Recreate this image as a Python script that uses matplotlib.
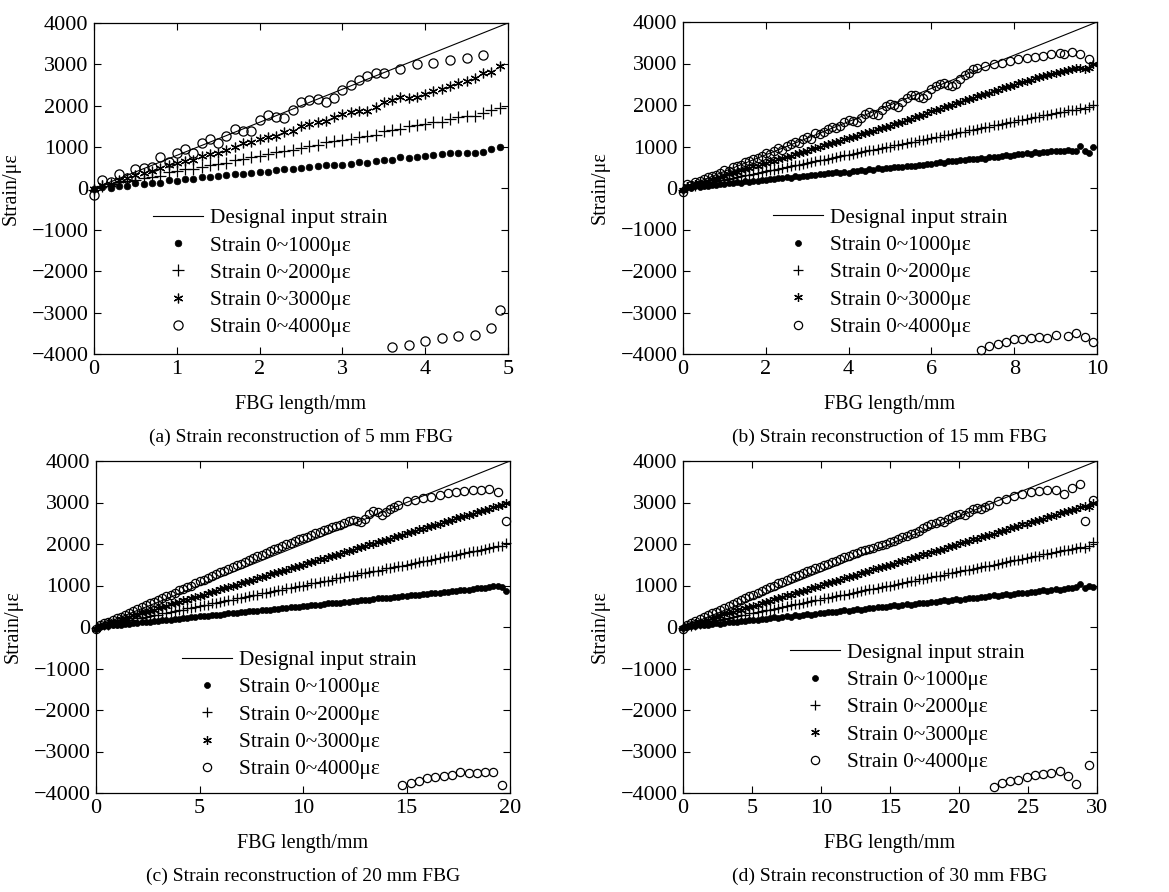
import numpy as np
import matplotlib
matplotlib.use('Agg')
import matplotlib.pyplot as plt

plt.rcParams['font.family'] = ['Liberation Serif', 'DejaVu Serif']

labels = ['Designal input strain', 'Strain 0~1000\u03bc\u03b5', 'Strain 0~2000\u03bc\u03b5',
          'Strain 0~3000\u03bc\u03b5', 'Strain 0~4000\u03bc\u03b5']
design_strain = [0, 4000]

# ---- (a) 5 mm FBG, sampled every 0.1 mm
len_a, step_a = 5, 0.1
s1_a = [-20, 30, 10, 50, 60, 130, 100, 140, 130, 200,
        190, 230, 220, 280, 290, 300, 320, 340, 360, 370,
        410, 400, 450, 470, 480, 500, 520, 540, 560, 580,
        580, 590, 630, 620, 670, 690, 700, 750, 730, 760,
        790, 800, 840, 850, 860, 850, 870, 880, 950, 1000]
s2_a = [-30, 60, 100, 150, 180, 200, 250, 280, 300, 390,
        420, 460, 480, 530, 560, 590, 620, 690, 720, 760,
        790, 840, 880, 910, 940, 990, 1020, 1060, 1120, 1150,
        1180, 1200, 1250, 1280, 1300, 1380, 1420, 1450, 1500, 1530,
        1570, 1600, 1610, 1680, 1720, 1750, 1760, 1820, 1900, 1950]
s3_a = [-20, 80, 120, 200, 260, 330, 380, 430, 500, 570,
        620, 660, 700, 790, 830, 870, 930, 1000, 1090, 1120,
        1200, 1240, 1280, 1370, 1400, 1500, 1570, 1600, 1640, 1730,
        1800, 1850, 1880, 1880, 1960, 2080, 2150, 2200, 2190, 2200,
        2290, 2360, 2400, 2480, 2540, 2600, 2680, 2800, 2810, 2950]
s4_a = [-150, 200, 150, 350, 250, 480, 490, 510, 750, 640,
        850, 950, 850, 1100, 1200, 1100, 1280, 1450, 1400, 1400,
        1650, 1770, 1740, 1700, 1900, 2080, 2150, 2160, 2100, 2180,
        2370, 2500, 2620, 2720, 2780, 2790, -3830, 2900, -3780, 3000,
        -3680, 3040, -3620, 3100, -3570, 3150, -3530, 3220, -3360, -2930]

# ---- (b) 15 mm FBG (10 mm shown), every 0.1 mm
len_b, step_b = 10, 0.1
s1_b = [-60, 20, 10, 40, 30, 60, 50, 80, 70, 100,
        90, 120, 110, 140, 130, 160, 150, 170, 180, 200,
        190, 220, 210, 240, 230, 260, 250, 280, 270, 300,
        300, 320, 310, 340, 330, 360, 350, 380, 370, 380,
        370, 410, 420, 430, 420, 450, 440, 470, 460, 490,
        480, 510, 500, 510, 520, 540, 530, 560, 550, 580,
        590, 600, 620, 610, 640, 650, 640, 670, 680, 690,
        700, 690, 720, 710, 740, 750, 740, 770, 790, 780,
        800, 820, 810, 850, 830, 860, 840, 870, 860, 880,
        880, 890, 900, 910, 880, 900, 1010, 900, 840, 980]
s2_b = [-50, 30, 40, 60, 90, 100, 130, 140, 160, 190,
        200, 220, 250, 260, 280, 310, 320, 340, 370, 380,
        400, 430, 440, 460, 490, 500, 520, 550, 560, 580,
        610, 620, 640, 670, 680, 700, 730, 740, 760, 790,
        790, 820, 850, 860, 880, 910, 920, 940, 970, 980,
        1000, 1030, 1040, 1060, 1090, 1100, 1120, 1150, 1160, 1180,
        1210, 1220, 1240, 1270, 1280, 1300, 1330, 1340, 1360, 1390,
        1400, 1420, 1450, 1460, 1480, 1510, 1520, 1540, 1570, 1580,
        1600, 1630, 1640, 1660, 1690, 1700, 1720, 1750, 1760, 1780,
        1810, 1820, 1840, 1870, 1880, 1880, 1920, 1900, 1950, 2000]
s3_b = [-60, 50, 60, 90, 130, 150, 180, 220, 240, 270,
        300, 340, 360, 390, 430, 450, 480, 520, 540, 570,
        600, 640, 660, 690, 730, 750, 780, 820, 840, 870,
        900, 940, 960, 990, 1030, 1050, 1080, 1120, 1140, 1170,
        1200, 1240, 1260, 1290, 1330, 1350, 1380, 1420, 1440, 1470,
        1500, 1540, 1560, 1600, 1640, 1670, 1700, 1740, 1770, 1800,
        1850, 1880, 1900, 1950, 1980, 2010, 2040, 2080, 2110, 2140,
        2170, 2210, 2240, 2270, 2300, 2340, 2370, 2400, 2430, 2460,
        2490, 2520, 2550, 2580, 2610, 2640, 2670, 2700, 2720, 2750,
        2780, 2800, 2820, 2850, 2870, 2880, 2900, 2860, 2900, 2980]
s4_b = [-100, 100, 80, 150, 170, 220, 260, 300, 320, 350,
        430, 420, 500, 520, 560, 620, 650, 700, 730, 760,
        850, 820, 890, 960, 920, 1010, 1060, 1100, 1090, 1180,
        1220, 1180, 1330, 1300, 1360, 1420, 1470, 1440, 1500, 1580,
        1640, 1620, 1600, 1680, 1780, 1820, 1790, 1770, 1880, 1970,
        2020, 1990, 1960, 2080, 2180, 2230, 2250, 2200, 2180, 2240,
        2380, 2450, 2510, 2530, 2490, 2460, 2510, 2630, 2720, 2780,
        2860, 2900, -3900, 2940, -3800, 2980, -3750, 3020, -3700, 3060,
        -3650, 3100, -3650, 3130, -3620, 3160, -3600, 3190, -3620, 3220,
        -3550, 3250, 3230, -3570, 3270, -3500, 3230, -3600, 3120, -3720]

# ---- (c) 20 mm FBG, every 0.2 mm
len_c, step_c = 20, 0.2
s1_c = [-40, 0, 20, 20, 40, 40, 60, 70, 80, 90,
        100, 110, 120, 130, 150, 150, 160, 170, 180, 200,
        200, 210, 220, 230, 240, 260, 260, 270, 280, 290,
        300, 310, 330, 330, 340, 350, 360, 380, 380, 390,
        400, 420, 420, 430, 440, 460, 460, 470, 490, 490,
        500, 510, 520, 540, 540, 550, 570, 570, 580, 590,
        600, 610, 620, 630, 650, 650, 660, 670, 690, 690,
        700, 710, 720, 730, 750, 750, 760, 780, 780, 790,
        800, 810, 830, 830, 840, 850, 870, 870, 880, 900,
        900, 910, 930, 940, 950, 960, 980, 1000, 970, 860]
s2_c = [-30, 30, 40, 60, 90, 100, 120, 150, 160, 180,
        210, 220, 240, 270, 280, 300, 330, 340, 360, 390,
        400, 420, 450, 460, 480, 510, 520, 540, 570, 580,
        600, 630, 640, 660, 690, 700, 720, 750, 760, 780,
        810, 820, 840, 870, 880, 900, 930, 940, 960, 990,
        1000, 1020, 1050, 1060, 1080, 1110, 1120, 1140, 1170, 1180,
        1200, 1230, 1240, 1260, 1290, 1300, 1320, 1350, 1360, 1380,
        1410, 1420, 1440, 1470, 1480, 1500, 1530, 1540, 1560, 1590,
        1600, 1620, 1650, 1660, 1680, 1710, 1720, 1740, 1770, 1780,
        1800, 1830, 1840, 1860, 1890, 1900, 1920, 1950, 1940, 2030]
s3_c = [-40, 40, 60, 100, 120, 150, 190, 210, 240, 280,
        300, 330, 370, 390, 420, 460, 480, 510, 550, 570,
        600, 640, 660, 690, 730, 750, 780, 820, 840, 870,
        910, 930, 960, 1000, 1020, 1050, 1090, 1110, 1140, 1180,
        1200, 1230, 1270, 1290, 1320, 1360, 1380, 1410, 1450, 1470,
        1500, 1540, 1560, 1590, 1630, 1650, 1680, 1720, 1740, 1770,
        1810, 1830, 1860, 1900, 1920, 1950, 1990, 2010, 2040, 2080,
        2100, 2130, 2170, 2190, 2220, 2260, 2280, 2310, 2350, 2370,
        2400, 2440, 2460, 2490, 2530, 2550, 2580, 2620, 2640, 2670,
        2710, 2730, 2760, 2800, 2820, 2850, 2890, 2910, 2930, 2990]
s4_c = [-50, 60, 90, 130, 180, 220, 250, 300, 340, 390,
        440, 480, 520, 570, 610, 650, 700, 740, 780, 830,
        880, 920, 960, 1000, 1050, 1110, 1140, 1180, 1230, 1270,
        1330, 1360, 1400, 1450, 1500, 1530, 1570, 1620, 1660, 1700,
        1740, 1780, 1830, 1870, 1900, 1940, 1990, 2030, 2070, 2110,
        2150, 2180, 2220, 2260, 2300, 2340, 2370, 2420, 2440, 2460,
        2500, 2560, 2580, 2550, 2520, 2600, 2720, 2800, 2760, 2710,
        2760, 2850, 2900, 2950, -3810, 3030, -3760, 3070, -3710, 3100,
        -3650, 3130, -3620, 3170, -3600, 3220, -3560, 3260, -3500, 3280,
        -3510, 3300, -3530, 3290, -3500, 3330, -3500, 3250, -3800, 2550]

# ---- (d) 30 mm FBG, every 0.3 mm
len_d, step_d = 30, 0.3
s1_d = [-20, 10, 30, 20, 40, 60, 50, 70, 90, 80,
        100, 120, 110, 130, 150, 140, 170, 160, 180, 200,
        190, 210, 230, 220, 240, 260, 250, 280, 270, 290,
        310, 300, 320, 340, 330, 350, 370, 360, 380, 400,
        390, 410, 430, 420, 440, 460, 450, 470, 490, 480,
        500, 520, 510, 530, 550, 540, 560, 580, 570, 590,
        610, 600, 620, 640, 630, 650, 670, 660, 680, 700,
        690, 710, 730, 720, 740, 760, 750, 770, 790, 780,
        800, 820, 810, 830, 850, 840, 860, 880, 870, 890,
        910, 900, 920, 940, 930, 960, 1040, 950, 1000, 970]
s2_d = [-30, 30, 30, 60, 80, 100, 130, 140, 160, 180,
        200, 220, 250, 260, 280, 300, 330, 340, 360, 380,
        410, 420, 440, 460, 490, 500, 520, 550, 560, 580,
        600, 630, 640, 660, 690, 700, 720, 740, 770, 780,
        800, 830, 840, 860, 880, 910, 920, 940, 960, 990,
        1000, 1020, 1040, 1070, 1080, 1100, 1120, 1150, 1160, 1180,
        1200, 1230, 1240, 1260, 1290, 1300, 1320, 1340, 1370, 1380,
        1400, 1420, 1450, 1460, 1480, 1500, 1530, 1540, 1560, 1580,
        1610, 1620, 1640, 1660, 1690, 1700, 1720, 1750, 1760, 1780,
        1800, 1820, 1850, 1860, 1880, 1900, 1930, 1910, 1960, 2050]
s3_d = [-30, 40, 60, 90, 130, 150, 180, 220, 240, 270,
        310, 330, 360, 400, 420, 450, 490, 510, 540, 580,
        600, 630, 670, 690, 720, 760, 780, 810, 850, 870,
        900, 940, 960, 990, 1030, 1050, 1080, 1120, 1140, 1170,
        1210, 1230, 1260, 1300, 1320, 1350, 1390, 1410, 1440, 1480,
        1500, 1530, 1570, 1590, 1620, 1660, 1680, 1710, 1750, 1770,
        1800, 1840, 1860, 1890, 1930, 1950, 1980, 2020, 2040, 2070,
        2110, 2130, 2160, 2200, 2220, 2250, 2290, 2310, 2340, 2380,
        2400, 2430, 2470, 2490, 2520, 2560, 2580, 2610, 2650, 2670,
        2700, 2740, 2760, 2790, 2830, 2850, 2880, 2920, 2900, 2990]
s4_d = [-40, 60, 100, 150, 200, 240, 290, 330, 370, 420,
        460, 510, 560, 600, 640, 690, 740, 780, 830, 870,
        920, 960, 1000, 1050, 1090, 1140, 1180, 1220, 1260, 1300,
        1340, 1370, 1410, 1450, 1490, 1530, 1570, 1600, 1640, 1680,
        1720, 1750, 1790, 1820, 1860, 1880, 1910, 1950, 1980, 2010,
        2040, 2080, 2110, 2160, 2200, 2230, 2270, 2320, 2380, 2430,
        2470, 2500, 2560, 2540, 2600, 2650, 2700, 2720, 2690, 2760,
        2850, 2870, 2840, 2880, 2950, -3850, 3030, -3760, 3090, -3720,
        3150, -3680, 3200, -3620, 3250, -3570, 3280, -3540, 3300, -3520,
        3310, -3470, 3200, -3600, 3350, -3780, 3450, 2550, -3330, 3060]

panels = [
    ('a', len_a, step_a, [s1_a, s2_a, s3_a, s4_a], [0, 1, 2, 3, 4, 5], '5'),
    ('b', len_b, step_b, [s1_b, s2_b, s3_b, s4_b], [0, 2, 4, 6, 8, 10], '15'),
    ('c', len_c, step_c, [s1_c, s2_c, s3_c, s4_c], [0, 5, 10, 15, 20], '20'),
    ('d', len_d, step_d, [s1_d, s2_d, s3_d, s4_d], [0, 5, 10, 15, 20, 25, 30], '30'),
]

# axes rectangles (pixels: left, top, right, bottom) and legend placement
W, H = 1169, 892
boxes = {'a': (94, 23, 508, 354), 'b': (683, 22, 1097, 354),
         'c': (96, 461, 510, 793), 'd': (683, 461, 1097, 793)}
leg_anchor = {'a': (0.1425, 0.44), 'b': (0.217, 0.44),
              'c': (0.208, 0.43), 'd': (0.258, 0.452)}

styles = [dict(marker='o', ms=4.8, mfc='black', mec='black', mew=0.5),
          dict(marker='+', ms=8, mec='black', mew=0.9),
          dict(marker=(6, 2, 0), ms=7, mec='black', mew=0.9),
          dict(marker='o', ms=6.6, mfc='none', mec='black', mew=0.9)]

fig = plt.figure(figsize=(W / 100, H / 100), dpi=100)

for tag, length, step, series, xticks, mm in panels:
    l, t, r, b = boxes[tag]
    ax = fig.add_axes([l / W, 1 - b / H, (r - l) / W, (b - t) / H])
    x = np.round(np.arange(len(series[0])) * step, 3)

    ax.plot([0, length], design_strain, color='black', lw=0.8, label=labels[0])
    for k, vals in enumerate(series):
        st = dict(styles[k])
        if tag != 'a':
            st['ms'] = st['ms'] * 0.9
        ax.plot(x, vals, ls='none', color='black', clip_on=False,
                label=labels[k + 1], **st)

    ax.set_xlim(0, length)
    ax.set_ylim(-4000, 4000)
    ax.set_xticks(xticks)
    ax.set_yticks(range(-4000, 4001, 1000))
    ax.tick_params(direction='in', top=True, right=True, length=5,
                   width=0.8, labelsize=16, pad=4)
    for sp in ax.spines.values():
        sp.set_linewidth(0.9)
    ax.set_xlabel('FBG length/mm', fontsize=14.5, labelpad=12)
    ax.set_ylabel('Strain/\u03bc\u03b5', fontsize=14.5, labelpad=8)
    ax.text(0.5, -0.25, f'({tag}) Strain reconstruction of {mm} mm FBG',
            transform=ax.transAxes, ha='center', va='center', fontsize=14)

    ax.legend(loc='upper left', bbox_to_anchor=leg_anchor[tag], frameon=False,
              fontsize=15.3, handlelength=2.35, handletextpad=0.32,
              labelspacing=0.35, borderpad=0, borderaxespad=0)

fig.savefig('out.png', dpi=100)
